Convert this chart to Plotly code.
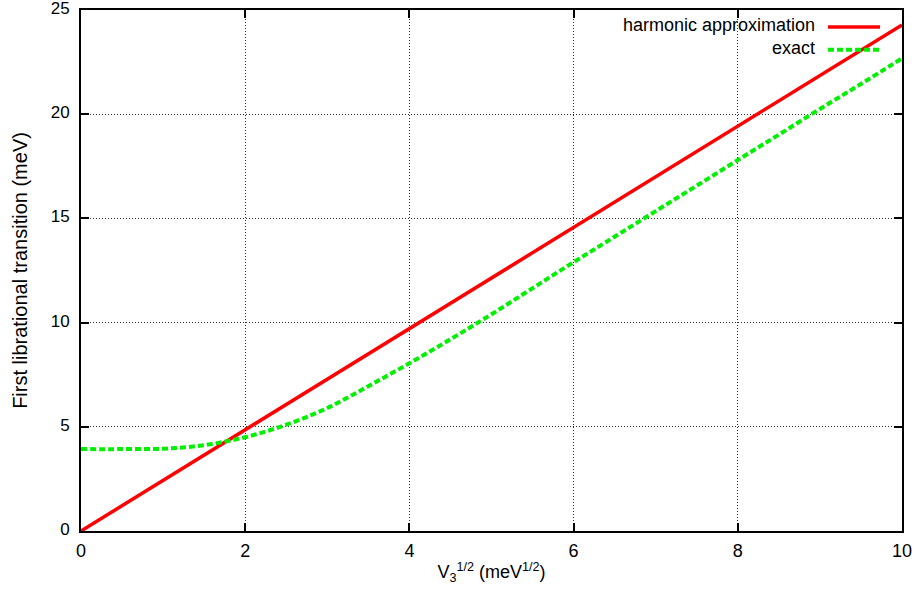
import plotly.graph_objects as go

# Harmonic approximation: straight line in sqrt(V3)
harm_x = [0, 10]
harm_y = [0, 24.28]

# Exact first librational transition energies (meV)
exact_x = [0, 0.5, 1, 1.5, 2, 2.5, 3, 3.5, 4, 4.5, 5, 5.5, 6, 6.5, 7, 7.5, 8, 8.5, 9, 9.5, 10]
exact_y = [3.93, 3.93, 3.95, 4.12, 4.5, 5.1, 5.9, 6.95, 8.05, 9.2, 10.4, 11.65,
           12.9, 14.12, 15.35, 16.57, 17.8, 19.02, 20.25, 21.45, 22.68]

x_ticks = [0, 2, 4, 6, 8, 10]
y_ticks = [0, 5, 10, 15, 20, 25]

legend_labels = ["harmonic approximation", "exact"]
RED = "#ff0000"
GREEN = "#00f000"
FONT = "Liberation Sans, Arial, sans-serif"

fig = go.Figure()
fig.add_trace(go.Scatter(x=harm_x, y=harm_y, mode="lines",
                         line=dict(color=RED, width=3.5), showlegend=False))
fig.add_trace(go.Scatter(x=exact_x, y=exact_y, mode="lines",
                         line=dict(color=GREEN, width=4, dash="6px,3px", shape="spline"),
                         showlegend=False))

# Key in the top-right corner: labels right-aligned, sample lines to their right
fig.add_annotation(x=0.8965, y=0.9486, xref="paper", yref="paper",
                   text="<br>".join(legend_labels), align="right",
                   showarrow=False, xanchor="right", yanchor="middle",
                   font=dict(family=FONT, size=18, color="black"))
key_rows = [(0.9675, RED, "solid", 3.5), (0.9235, GREEN, "6px,3px", 4)]
for ky, col, dash, w in key_rows:
    fig.add_shape(type="line", xref="paper", yref="paper", x0=0.9099, x1=0.9732,
                  y0=ky, y1=ky, line=dict(color=col, width=w, dash=dash), layer="above")

# Blank out the grid behind the key
fig.add_shape(type="rect", xref="paper", yref="paper", x0=0.656, x1=0.984, y0=0.903, y1=1.0,
              fillcolor="white", line=dict(width=0), layer="between")

axis_common = dict(
    showline=True, linecolor="black", linewidth=2, mirror="allticks",
    ticks="inside", ticklen=8, tickwidth=1.5, tickcolor="black",
    showgrid=True, gridcolor="#333333", gridwidth=1, griddash="1px,2px",
    zeroline=False, automargin=False, ticklabeloverflow="allow",
)

fig.update_xaxes(range=[0, 10], tickvals=x_ticks, ticklabelstandoff=2,
                 tickfont=dict(family=FONT, size=18, color="black"),
                 title=dict(text="V<sub>3</sub><sup>1/2</sup> (meV<sup>1/2</sup>)",
                            font=dict(family=FONT, size=18, color="black"), standoff=6),
                 **axis_common)
fig.update_yaxes(range=[0, 25], tickvals=y_ticks, ticklabelstandoff=6, ticklabelshift=-2,
                 tickfont=dict(family=FONT, size=17, color="black"),
                 title=dict(text="First librational transition (meV)",
                            font=dict(family=FONT, size=20, color="black"), standoff=18),
                 **axis_common)

fig.update_layout(width=916, height=590, margin=dict(l=81, r=14, t=10, b=59),
                  plot_bgcolor="white", paper_bgcolor="white",
                  font=dict(family=FONT, color="black"))

fig.write_html("out.html")
